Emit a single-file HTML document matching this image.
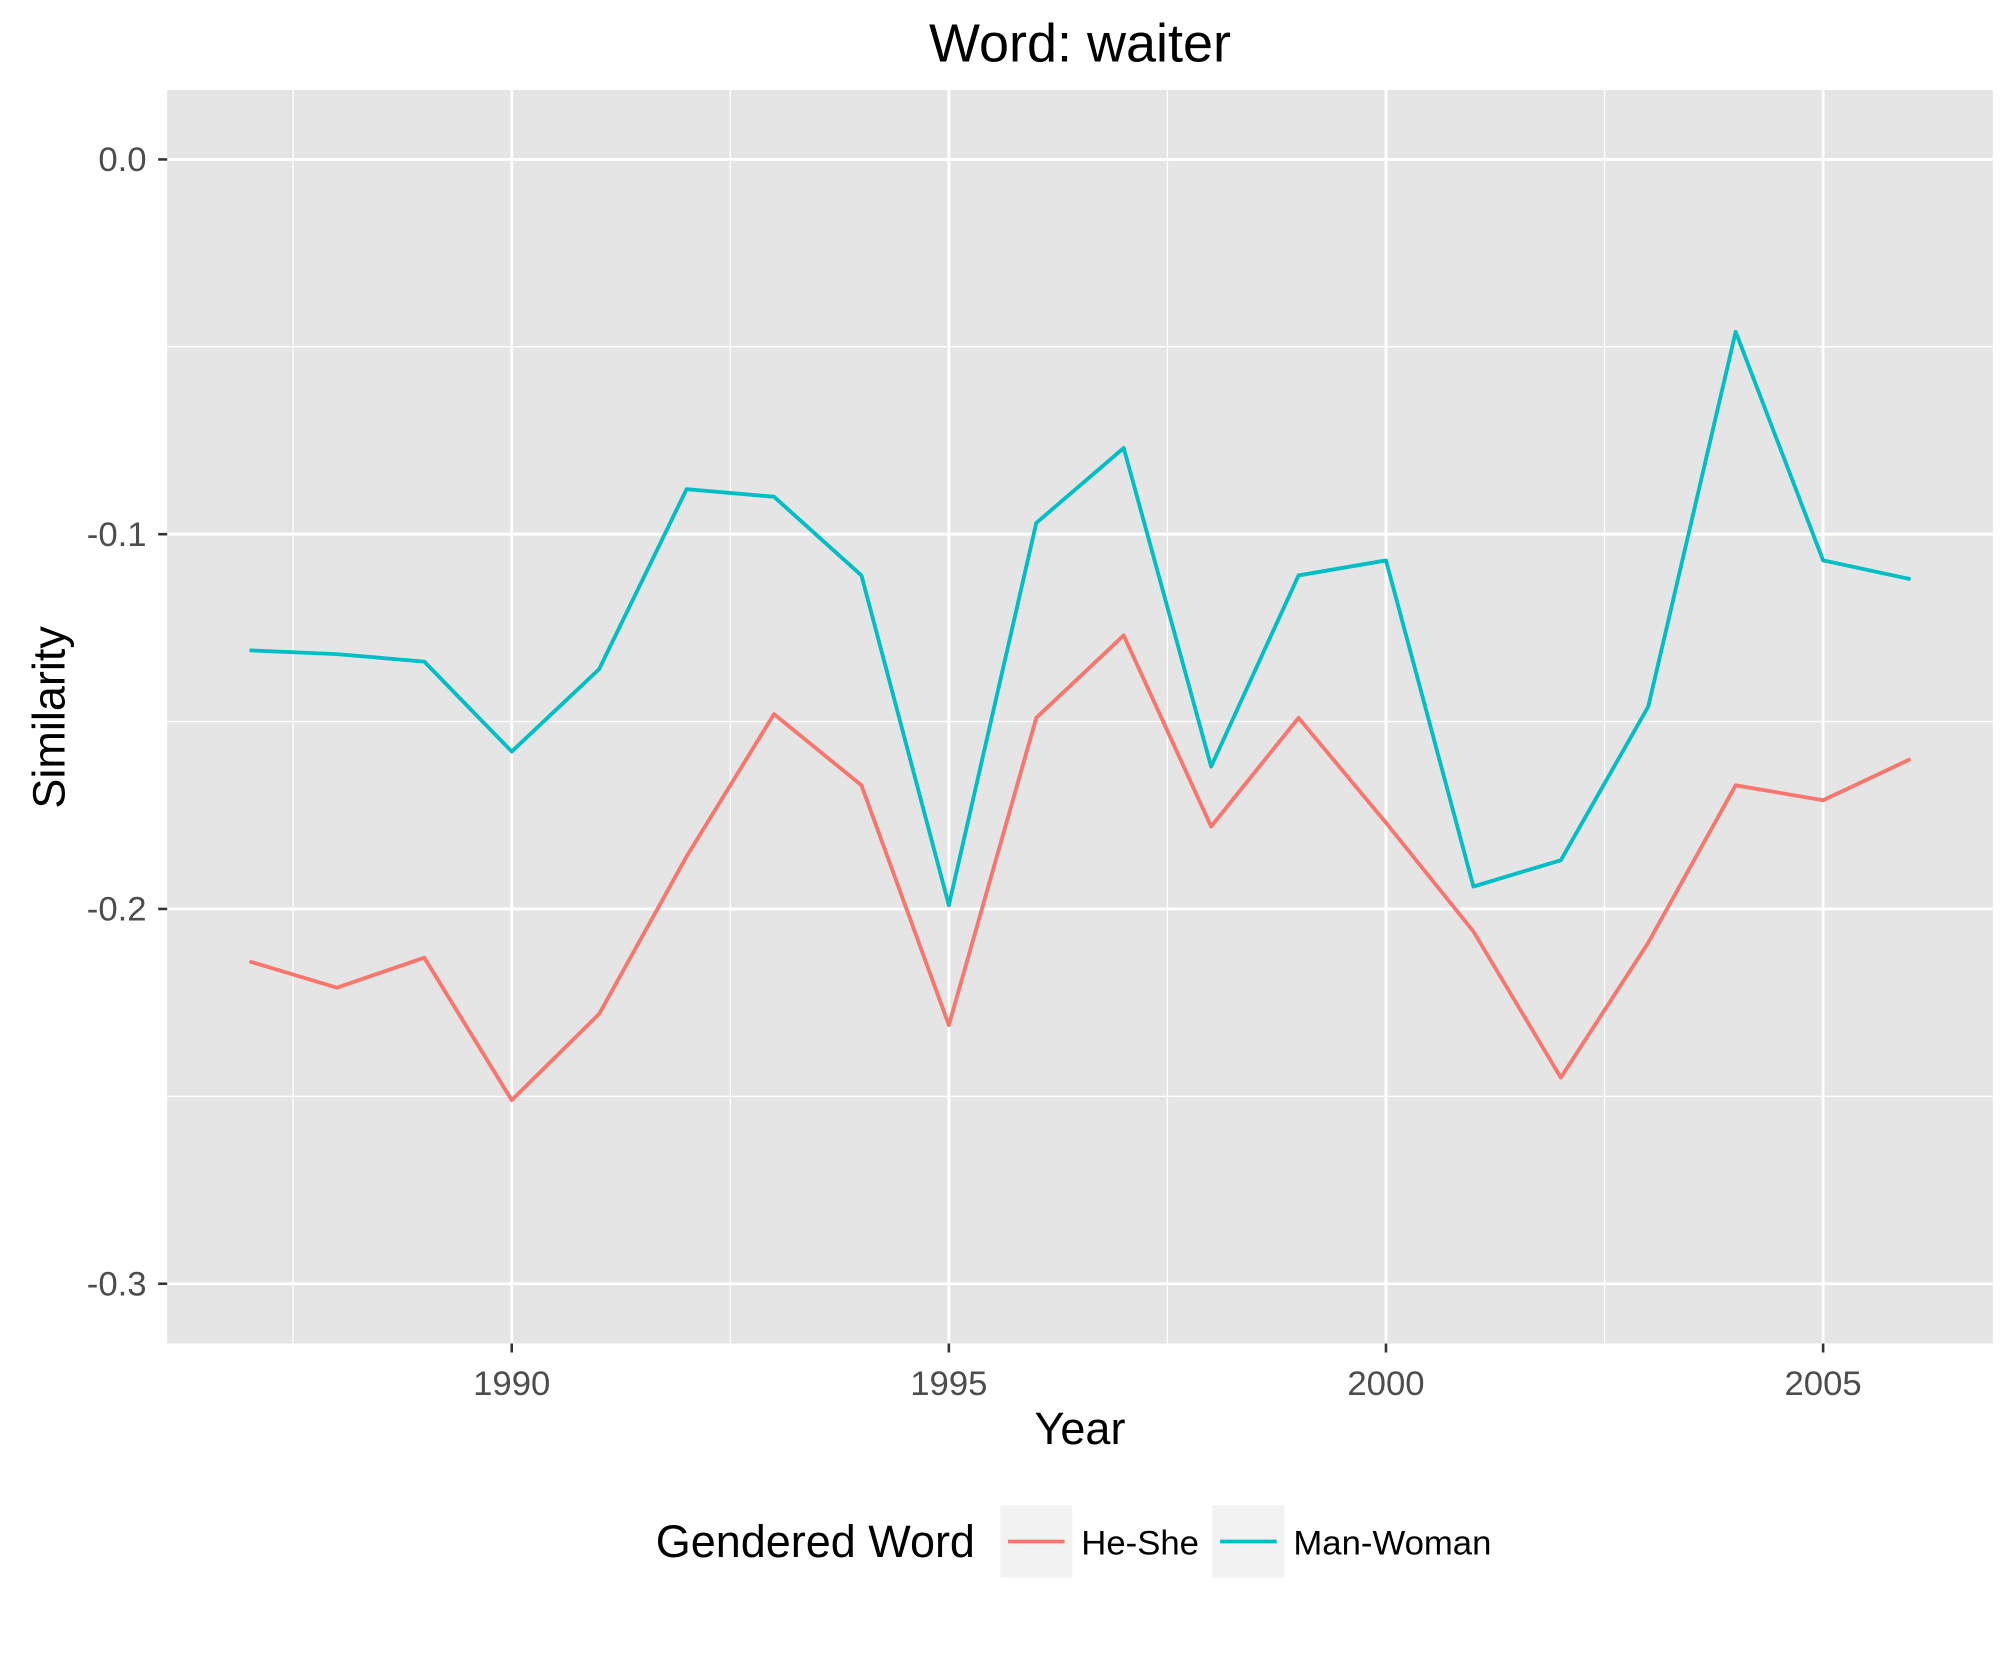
<!DOCTYPE html>
<html><head><meta charset="utf-8"><style>
html,body{margin:0;padding:0;background:#fff}
svg{display:block;font-family:"Liberation Sans",Arial,sans-serif}
</style></head><body>
<svg id="chart" width="2016" height="1654" viewBox="0 0 1568 1286.5">
<rect x="0" y="0" width="1568" height="1286.5" fill="#fff"/>
<text x="840" y="48" font-size="42" text-anchor="middle" fill="#000">Word: waiter</text>
<rect x="130" y="70" width="1420" height="975" fill="#e5e5e5"/>
<g id="grid"></g>
<g id="series"></g>
<g id="axes"></g>
<text x="840" y="1123" font-size="35" text-anchor="middle" fill="#000">Year</text>
<text transform="translate(50,558) rotate(-90)" font-size="35" text-anchor="middle" fill="#000">Similarity</text>
<g>
<text x="510" y="1211" font-size="35" fill="#000">Gendered Word</text>
<g>
<rect x="778" y="1171" width="56" height="56" fill="#f2f2f2"/>
<line x1="784" y1="1199" x2="828" y2="1199" stroke="#F8766D" stroke-width="3"/>
<text x="841" y="1209" font-size="27" fill="#000">He-She</text></g>
<g>
<rect x="943" y="1171" width="56" height="56" fill="#f2f2f2"/>
<line x1="949" y1="1199" x2="993" y2="1199" stroke="#00BFC4" stroke-width="3"/>
<text x="1006" y="1209" font-size="27" fill="#000">Man-Woman</text></g>
</g>
</svg>
<script>
const years=[1987,1988,1989,1990,1991,1992,1993,1994,1995,1996,1997,1998,1999,2000,2001,2002,2003,2004,2005,2006];
const heShe=[-0.214,-0.221,-0.213,-0.251,-0.228,-0.186,-0.148,-0.167,-0.231,-0.149,-0.127,-0.178,-0.149,-0.177,-0.206,-0.245,-0.209,-0.167,-0.171,-0.160];
const manWoman=[-0.131,-0.132,-0.134,-0.158,-0.136,-0.088,-0.090,-0.111,-0.199,-0.097,-0.077,-0.162,-0.111,-0.107,-0.194,-0.187,-0.146,-0.046,-0.107,-0.112];
const xTicks=[1990,1995,2000,2005];
const yTicks=[0,-0.1,-0.2,-0.3];
const yTickLabels=["0.0","-0.1","-0.2","-0.3"];

const NS="http://www.w3.org/2000/svg";
function X(v){return 398+(v-1990)*68;}
function Y(v){return 124-v*2915;}
function mk(tag,attrs,parent){const e=document.createElementNS(NS,tag);for(const k in attrs)e.setAttribute(k,attrs[k]);parent.appendChild(e);return e;}
const grid=document.getElementById('grid'),ser=document.getElementById('series'),ax=document.getElementById('axes');
xTicks.forEach(t=>{const l=mk('line',{x1:X(t-2.5),x2:X(t-2.5),y1:70,y2:1045,stroke:'#fff','stroke-width':1},grid);

});
yTicks.slice(0,3).forEach(t=>{const l=mk('line',{x1:130,x2:1550,y1:Y(t-0.05),y2:Y(t-0.05),stroke:'#fff','stroke-width':1},grid);

});
xTicks.forEach(t=>{const l=mk('line',{x1:X(t),x2:X(t),y1:70,y2:1045,stroke:'#fff','stroke-width':2.2},grid);


const tk=mk('line',{x1:X(t),x2:X(t),y1:1045,y2:1052,stroke:'#333','stroke-width':2},ax);


const tx=mk('text',{x:X(t),y:1085,'font-size':27,'text-anchor':'middle',fill:'#4d4d4d'},ax);tx.textContent=t;

});
yTicks.forEach((t,i)=>{const l=mk('line',{x1:130,x2:1550,y1:Y(t),y2:Y(t),stroke:'#fff','stroke-width':2.2},grid);


const tk=mk('line',{x1:123,x2:130,y1:Y(t),y2:Y(t),stroke:'#333','stroke-width':2},ax);


const tx=mk('text',{x:114,y:Y(t)+9,'font-size':27,'text-anchor':'end',fill:'#4d4d4d'},ax);tx.textContent=yTickLabels[i];

});
function line(vals,color,name){const p=mk('polyline',{points:vals.map((v,i)=>X(years[i])+','+Y(v)).join(' '),fill:'none',stroke:color,'stroke-width':3,'stroke-linejoin':'round'},ser);

}
line(heShe,'#F8766D','he-she-line');
line(manWoman,'#00BFC4','man-woman-line');
</script>
</body></html>
